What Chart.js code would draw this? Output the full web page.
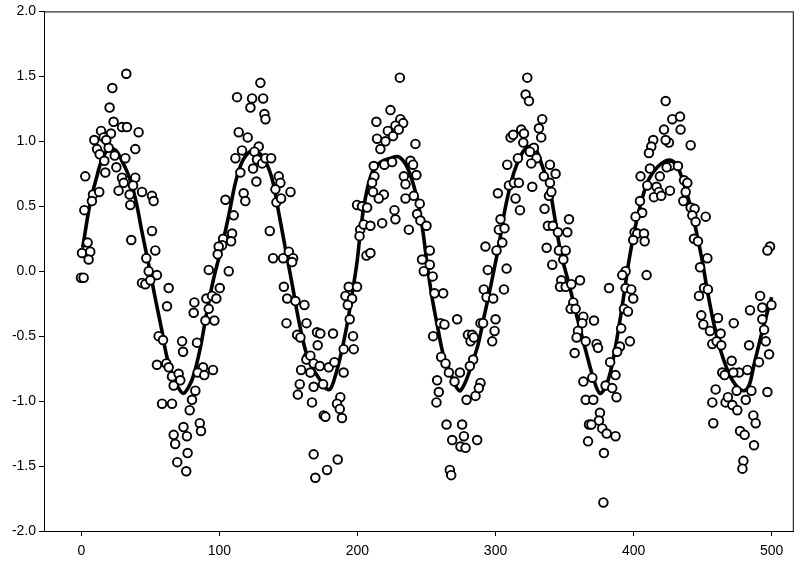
<!DOCTYPE html>
<html>
<head>
<meta charset="utf-8">
<title>Scatter with fitted curve</title>
<script src="https://cdn.jsdelivr.net/npm/chart.js@4/dist/chart.umd.min.js"></script>
<style>
  html, body { margin: 0; padding: 0; background: #fff; }
  #wrap { width: 800px; height: 568px; }
</style>
</head>
<body>
<div id="wrap"><canvas id="chart" width="800" height="568"></canvas></div>
<script>
'use strict';

// ─── Data ─────────────────────────────────────────────────────────────────────
const xTicks = [0, 100, 200, 300, 400, 500];
const yTicks = [-2.0, -1.5, -1.0, -0.5, 0.0, 0.5, 1.0, 1.5, 2.0];

// observed points
const obsX = [
  32.6,22.5,20.5,23.4,29.5,33.1,14.3,21.5,9.4,16.2,18.1,11.4,19.8,13.3,24.2,31.9,16.7,25.4,2.9,29.5,17.4,30.7,27,8.5,13,7.7,35,35.5,2.2,36.2,4.6,0.5,6.5,5.3,-0.2,1.7,
  41.5,39.1,39.1,37.5,44,51.2,52.4,51.2,53.6,47.1,48.8,54.8,44,46.4,50,63.3,62.1,56,59.2,73,73.7,54.8,61.6,63.3,65.7,66.9,70.5,71.7,58.5,65.7,78.5,66.9,68,69.5,74,76.5,77,76,
  114,120.5,116.4,111.6,115.2,117.6,118.8,104.4,110.4,109.2,102.7,102,99.5,108.5,98.8,92.3,106.8,100.3,81.9,81.4,90.6,94.7,97.8,92.3,89.9,96.4,83.8,88.2,84.3,89.1,95.4,82.6,80.2,85.8,86.7,112.8,
  129.7,123.7,131.7,122.5,132.6,133.4,128.5,125.4,127.3,124.4,126.8,131,133.4,137.5,143,144.2,140.6,151.5,141.3,144.7,136.5,138.9,146.2,150.3,153.4,152.7,146.7,149.1,155.1,161.6,148.6,163.1,156.3,158.7,164,163,159.2,158.2,156.8,
  199.7,203.3,207,202,201.5,204.5,206.5,193.7,199.7,191.3,196.1,193,194.4,196.8,190,197.3,170.7,173.1,182.3,171.2,165.9,168.3,172.7,179.2,183.3,165.9,168.3,175.1,190,187.6,185.2,187.2,188.8,167.1,175.6,176.8,168.3,185.7,178,169.5,
  230.7,223.9,213.7,231.1,233.1,227.5,214.2,220.3,222,225.8,229.9,216.6,242,219.5,225.1,211.8,212.3,210.6,211.3,238.4,240.3,242.7,233.6,234.8,234.8,240.8,245.1,219.1,215.4,226.8,227.5,217.9,237.2,243.2,245.6,250,252.4,246.8,248,252.4,209.4,209.4,
  254.5,255.8,262.1,260.1,263,272.2,254.8,260.6,263.8,266.2,270.3,274.2,257.7,258.9,257.2,279,285.5,289.1,287.9,264.5,275.8,268.6,277.1,274.6,278.3,286.7,266.9,267.9,280,283.1,281.9,284.3,289.1,291,283.8,281.4,292.7,294.4,291.5,293.5,
  323,321.8,324.2,333.8,331.4,333.1,310.9,312.8,318.6,320.6,320.1,327.8,324.9,329.7,316.2,325.9,308.5,339.4,335,339.4,338.7,340.4,309.7,313.3,316.9,314.5,317.7,326.6,301.7,303.6,302.4,306.5,304.9,300.7,335.5,337.9,341.5,337,341.1,308,306.1,298.3,300,299.3,297.6,
  343.5,353.2,352,345.2,345.9,350.8,349.1,347.6,346.7,350.8,354.9,361.2,382.2,356.3,354.4,358,363.6,362.8,371.3,359.7,358.7,365.3,373.2,374.2,357.3,383,370.1,363.6,379.7,384.5,365.3,370.8,375.6,374.9,367.7,369.4,377.3,380.5,367,378.5,378.1,
  423.2,428,422,425.6,423.2,414.2,412.8,411.1,426.3,423.9,419,411.8,405,409.9,416.6,418.3,414.7,420,426.3,404.6,406.2,401.4,400.7,402.6,407.5,399.7,408,409.4,394.2,391.8,394.2,398.3,399.7,393,395.9,391,397.3,390.1,388.1,386.9,387.6,386.9,
  433.6,434,441.3,432.1,436.5,438.9,437.7,436,441.3,444.2,442.5,444.9,452.2,443.7,446.6,453.4,448.1,451,453.8,447.3,449,461.1,450.5,455.3,457,460.1,463,463.5,464.2,465.9,459.4,457,466.6,468.3,457.7,
  498.8,496.9,491.6,493.2,499.8,484.3,493.2,494.5,472.5,495.7,498.1,483.6,490.8,482.4,476.3,471,472.2,474.6,485.3,496.9,481.2,471.5,475.1,486.7,488.4,477.1,480.4,487.2,479.5,478.8
];
const obsY = [
  1.52,1.41,1.26,1.15,1.11,1.11,1.08,1.06,1.01,1.03,1.01,0.94,0.95,0.90,0.89,0.87,0.85,0.80,0.73,0.72,0.76,0.68,0.62,0.59,0.61,0.54,0.59,0.51,0.47,0.24,0.22,0.14,0.15,0.09,-0.05,-0.05,
  1.07,0.94,0.72,0.66,0.61,0.58,0.54,0.31,0.16,0.10,0.0,-0.03,-0.09,-0.10,-0.07,-0.13,-0.27,-0.50,-0.53,-0.54,-0.62,-0.72,-0.71,-0.74,-0.81,-0.88,-0.79,-0.84,-1.02,-1.02,-1.07,-1.26,-1.33,-1.47,-1.2,-1.27,-1.40,-1.54,
  1.07,1.03,0.93,0.87,0.76,0.60,0.54,0.55,0.43,0.29,0.25,0.20,0.19,0.23,0.13,0.01,0.0,-0.13,-0.24,-0.32,-0.21,-0.19,-0.21,-0.29,-0.38,-0.38,-0.55,-0.74,-0.78,-0.80,-0.76,-0.92,-0.99,-1.17,-1.23,1.34,
  1.45,1.33,1.33,1.26,1.21,1.17,0.96,0.92,0.86,0.79,0.69,0.83,0.87,0.87,0.73,0.68,0.63,0.61,0.53,0.56,0.31,0.10,0.10,0.15,0.10,0.07,-0.12,-0.21,-0.23,-0.26,-0.40,-0.40,-0.49,-0.51,-0.66,-0.68,-0.76,-0.87,-0.95,
  0.51,0.50,0.49,0.32,0.27,0.36,0.12,-0.12,-0.12,-0.19,-0.21,-0.26,-0.37,-0.50,-0.60,-0.60,-0.47,-0.48,-0.48,-0.57,-0.65,-0.71,-0.73,-0.74,-0.70,-0.78,-0.89,-0.87,-0.78,-0.97,-1.02,-1.06,-1.13,-1.01,-1.11,-1.12,-1.41,-1.45,-1.53,-1.59,
  1.49,1.24,1.15,1.17,1.14,1.12,1.02,1.0,1.08,1.04,1.09,0.94,0.98,0.82,0.84,0.81,0.73,0.68,0.61,0.85,0.82,0.74,0.73,0.67,0.56,0.58,0.52,0.59,0.56,0.47,0.40,0.37,0.32,0.44,0.39,0.35,0.16,0.09,0.0,0.05,0.14,0.35,
  -0.04,-0.17,-0.17,-0.40,-0.41,-0.37,-0.50,-0.66,-0.71,-0.78,-0.85,-0.78,-0.84,-0.93,-1.01,-0.99,-0.96,-0.86,-0.90,-1.18,-1.18,-1.30,-1.27,-1.35,-1.36,-1.30,-1.53,-1.57,-0.49,-0.49,-0.54,-0.51,-0.40,-0.40,-0.68,-0.73,0.19,0.01,-0.14,-0.20,
  1.49,1.36,1.31,1.17,1.10,1.03,1.03,1.05,1.09,1.06,0.99,0.95,0.92,0.87,0.87,0.83,0.82,0.82,0.73,0.68,0.58,0.61,0.66,0.68,0.68,0.56,0.47,0.65,0.60,0.40,0.32,0.33,0.22,0.16,0.48,0.35,0.35,0.18,0.05,0.02,-0.14,-0.21,-0.37,-0.46,-0.54,
  0.75,0.40,0.30,0.30,0.16,0.16,0.09,-0.07,-0.12,-0.12,-0.10,-0.07,-0.13,-0.24,-0.29,-0.29,-0.35,-0.40,-0.38,-0.46,-0.51,-0.54,-0.56,-0.59,-0.63,-0.70,-0.82,-0.85,-0.88,-0.90,-0.99,-0.99,-1.09,-1.15,-1.18,-1.18,-1.21,-1.25,-1.31,-1.40,-1.78,
  1.31,1.17,1.09,0.99,1.01,1.01,0.96,0.91,0.81,0.80,0.73,0.79,0.73,0.66,0.65,0.61,0.57,0.58,0.62,0.54,0.45,0.42,0.30,0.29,0.29,0.24,0.23,-0.03,0.0,-0.03,-0.13,-0.14,-0.21,-0.29,-0.31,-0.44,-0.54,-0.58,-0.62,-0.80,-0.97,-1.27,
  1.19,1.09,0.97,0.81,0.70,0.68,0.61,0.54,0.49,0.48,0.43,0.38,0.42,0.25,0.23,0.10,0.03,-0.13,-0.14,-0.19,-0.34,-0.36,-0.41,-0.46,-0.56,-0.54,-0.48,-0.57,-0.78,-0.80,-0.91,-1.01,-1.01,-0.97,-1.17,
  0.19,0.16,-0.19,-0.28,-0.26,-0.30,-0.37,-0.45,-0.40,-0.54,-0.64,-0.57,-0.70,-0.76,-0.78,-0.69,-0.78,-0.92,-0.92,-0.93,-0.99,-1.03,-1.07,-1.11,-1.17,-1.23,-1.26,-1.34,-1.46,-1.52
];

// fitted curve
const fitX = [
  1,6.5,11.3,15,20,25,29.4,33,36.7,40,44,48.8,53.6,58.4,62,66.9,71,74,77.8,81.4,
  86.2,91,96,102,106.8,111.6,116.4,122,127,132.2,138.2,143,147.9,152.7,157.5,162.4,167.2,173.1,177,180,
  183,187.6,192.5,196.1,199.7,202.1,205.7,210.6,216.7,224,230,236,242,246.8,250.5,254,257.7,262.6,268.6,272,
  274.6,279.5,286.7,291.5,296.4,302.4,307.3,313.3,319.3,324.2,329,333.8,338.7,342.3,347.1,353.2,359.2,365.3,371.3,375.6,
  379.7,384,389,393,396.6,401.4,406.2,411.1,417.1,423.2,428,432,435.3,440.1,444.9,449.7,453.4,458.2,463,467.9,
  471.5,476,480,483.6,487.2,492,495.7,500
];
const fitY = [
  0.18,0.53,0.73,0.86,0.94,0.93,0.85,0.77,0.66,0.52,0.30,0.05,-0.21,-0.46,-0.66,-0.82,-0.91,-0.94,-0.89,-0.80,
  -0.59,-0.31,-0.05,0.20,0.43,0.68,0.84,0.92,0.92,0.87,0.71,0.45,0.17,-0.10,-0.38,-0.61,-0.74,-0.84,-0.90,-0.91,
  -0.84,-0.66,-0.41,-0.18,0.07,0.30,0.56,0.76,0.84,0.87,0.88,0.80,0.61,0.35,0.05,-0.20,-0.41,-0.66,-0.82,-0.90,
  -0.92,-0.82,-0.59,-0.36,-0.12,0.20,0.50,0.76,0.91,0.96,0.94,0.81,0.66,0.45,0.15,-0.10,-0.36,-0.61,-0.84,-0.94,
  -0.89,-0.74,-0.45,-0.18,0.08,0.35,0.56,0.71,0.80,0.85,0.85,0.80,0.71,0.54,0.33,0.08,-0.15,-0.41,-0.61,-0.76,
  -0.84,-0.90,-0.92,-0.88,-0.72,-0.51,-0.36,-0.20
];

// ─── Chart ────────────────────────────────────────────────────────────────────
const FONT = { family: 'Arial, "Liberation Sans", sans-serif', size: 14 };

// closes the box on top and right, like the original frame
const frameBox = {
  id: 'frameBox',
  afterDraw(chart) {
    const { ctx, chartArea: a } = chart;
    ctx.save();
    ctx.strokeStyle = '#000';
    ctx.lineWidth = 1;
    ctx.strokeRect(a.left + 0.5, a.top + 0.5, a.right - a.left - 1, a.bottom - a.top);
    ctx.restore();
  }
};

const points = obsX.map((x, i) => ({ x, y: obsY[i] }));
const curve = fitX.map((x, i) => ({ x, y: fitY[i] }));

new Chart(document.getElementById('chart'), {
  type: 'scatter',
  data: {
    datasets: [
      {
        data: points,
        pointRadius: 4.3,
        pointHoverRadius: 4.3,
        pointBackgroundColor: '#fff',
        pointBorderColor: '#000',
        pointBorderWidth: 1.9,
        order: 1,
      },
      {
        type: 'line',
        data: curve,
        borderColor: '#000',
        borderWidth: 3.6,
        pointRadius: 0,
        tension: 0.35,
        fill: false,
        order: 2,
      },
    ],
  },
  options: {
    responsive: false,
    animation: false,
    events: [],
    layout: { padding: { top: 4, right: 0, left: 0, bottom: 0 } },
    plugins: { legend: { display: false }, tooltip: { enabled: false } },
    scales: {
      x: {
        type: 'linear',
        min: -27,
        max: 516,
        afterBuildTicks: s => { s.ticks = xTicks.map(v => ({ value: v })); },
        afterFit: s => { s.height = 37; },
        ticks: { color: '#000', font: FONT, padding: 7, maxRotation: 0, callback: v => String(v) },
        grid: { display: true, drawOnChartArea: false, drawTicks: true, tickLength: 5, color: '#000', lineWidth: 1 },
        border: { display: true, color: '#000', width: 1 },
      },
      y: {
        type: 'linear',
        min: -2,
        max: 2,
        afterBuildTicks: s => { s.ticks = yTicks.map(v => ({ value: v })); },
        afterFit: s => { s.width = 44; },
        ticks: { color: '#000', font: FONT, padding: 3, callback: v => Number(v).toFixed(1) },
        grid: { display: true, drawOnChartArea: false, drawTicks: true, tickLength: 5, color: '#000', lineWidth: 1 },
        border: { display: true, color: '#000', width: 1 },
      },
    },
  },
  plugins: [frameBox],
});
</script>
</body>
</html>
